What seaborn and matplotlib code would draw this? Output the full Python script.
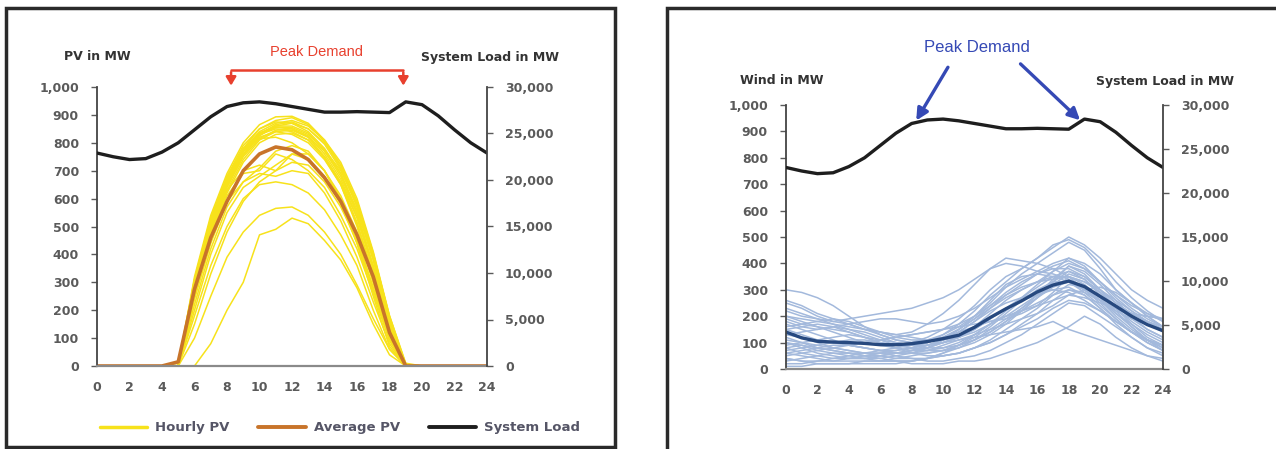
import numpy as np
import pandas as pd
import matplotlib.pyplot as plt
import seaborn as sns
from matplotlib.patches import Rectangle
from matplotlib.lines import Line2D
from matplotlib.ticker import FuncFormatter, MultipleLocator

# horas do dia
hours = list(range(25))

# carga do sistema (MW) - eixo secundario
system_load = [22900, 22500, 22200, 22300, 23000, 24000, 25400, 26800, 27900, 28300,
               28400, 28200, 27900, 27600, 27300, 27300, 27350, 27300, 27250, 28400,
               28100, 26900, 25400, 24000, 22900]

# media PV
pv_average = [0, 0, 0, 0, 0, 15, 275, 460, 590, 700, 760, 785, 775, 740, 675,
              590, 470, 320, 120, 0, 0, 0, 0, 0, 0]

# PV horario, um dia por linha (h0..h24)
Z5 = [0, 0, 0, 0, 0]
pv_days = [
    Z5 + [0, 320, 540, 690, 800, 865, 893, 895, 870, 810, 720, 580, 390, 160, 0] + Z5,
    Z5 + [0, 300, 520, 670, 780, 850, 880, 890, 865, 805, 710, 570, 380, 150, 0] + Z5,
    Z5 + [10, 310, 530, 680, 790, 850, 875, 870, 840, 780, 690, 550, 360, 140, 0] + Z5,
    Z5 + [0, 290, 510, 660, 770, 835, 860, 860, 835, 770, 680, 545, 355, 130, 0] + Z5,
    Z5 + [0, 280, 500, 650, 760, 830, 865, 875, 850, 795, 705, 575, 390, 170, 5] + Z5,
    Z5 + [0, 300, 520, 670, 775, 840, 870, 880, 860, 810, 730, 600, 410, 180, 5] + Z5,
    Z5 + [0, 270, 490, 640, 750, 815, 845, 850, 825, 760, 670, 535, 345, 130, 0] + Z5,
    Z5 + [0, 310, 525, 675, 780, 835, 855, 850, 820, 750, 655, 515, 330, 120, 0] + Z5,
    Z5 + [0, 260, 480, 630, 740, 810, 840, 845, 820, 770, 690, 560, 380, 150, 0] + Z5,
    Z5 + [0, 290, 505, 655, 760, 820, 840, 830, 800, 740, 650, 510, 320, 110, 0] + Z5,
    Z5 + [0, 300, 515, 665, 770, 830, 855, 855, 830, 775, 700, 580, 400, 180, 10] + Z5,
    Z5 + [0, 280, 495, 645, 755, 825, 860, 870, 850, 800, 720, 590, 405, 175, 5] + Z5,
    Z5 + [0, 250, 470, 620, 730, 800, 830, 835, 810, 750, 660, 530, 350, 140, 0] + Z5,
    Z5 + [0, 270, 500, 660, 770, 830, 850, 840, 810, 745, 650, 500, 300, 100, 0] + Z5,
    Z5 + [0, 300, 520, 670, 770, 815, 820, 800, 760, 700, 610, 480, 300, 110, 0] + Z5,
    Z5 + [0, 280, 490, 630, 700, 720, 700, 730, 720, 660, 570, 450, 280, 100, 0] + Z5,
    Z5 + [0, 260, 470, 610, 690, 700, 760, 740, 700, 640, 540, 420, 260, 90, 0] + Z5,
    Z5 + [0, 240, 440, 590, 660, 690, 680, 700, 690, 620, 520, 390, 230, 80, 0] + Z5,
    Z5 + [0, 200, 400, 550, 640, 680, 720, 760, 740, 680, 580, 440, 270, 100, 0] + Z5,
    Z5 + [0, 150, 330, 480, 590, 660, 700, 760, 760, 700, 600, 460, 280, 100, 0] + Z5,
    Z5 + [0, 100, 250, 390, 480, 540, 565, 570, 540, 480, 400, 290, 170, 60, 0] + Z5,
    Z5 + [0, 0, 80, 200, 300, 470, 490, 530, 510, 450, 380, 280, 150, 40, 0] + Z5,
    Z5 + [0, 180, 360, 500, 600, 650, 660, 650, 620, 560, 470, 360, 200, 60, 0] + Z5,
    Z5 + [0, 220, 420, 570, 660, 710, 770, 790, 770, 700, 590, 440, 250, 70, 0] + Z5,
]

# media eolica
wind_average = [140, 118, 105, 102, 100, 97, 92, 92, 96, 104, 115, 128, 158, 195,
                228, 258, 292, 318, 333, 312, 275, 238, 200, 168, 145]

# eolica horaria, um dia por linha (h0..h24)
wind_days = [
    [300, 290, 270, 240, 200, 160, 130, 110, 100, 120, 150, 190, 240, 300, 350, 380, 420, 470, 490, 460, 400, 330, 270, 220, 180],
    [250, 230, 200, 180, 170, 150, 130, 110, 100, 110, 130, 160, 200, 250, 310, 360, 400, 440, 480, 450, 380, 300, 250, 200, 160],
    [200, 190, 180, 170, 160, 150, 140, 130, 140, 170, 210, 260, 320, 380, 420, 410, 400, 380, 350, 300, 260, 220, 190, 170, 150],
    [150, 130, 110, 100, 90, 80, 70, 70, 80, 100, 130, 170, 220, 280, 330, 380, 420, 460, 500, 470, 420, 360, 300, 260, 230],
    [120, 100, 80, 70, 60, 50, 50, 60, 70, 90, 110, 140, 180, 230, 280, 320, 360, 390, 410, 380, 330, 280, 230, 190, 160],
    [100, 90, 80, 70, 60, 60, 70, 80, 90, 100, 120, 150, 190, 240, 290, 330, 360, 380, 380, 350, 300, 250, 210, 180, 150],
    [80, 60, 50, 40, 40, 40, 50, 60, 70, 80, 100, 120, 150, 190, 230, 270, 310, 350, 370, 340, 290, 230, 180, 140, 110],
    [60, 50, 40, 30, 30, 30, 30, 40, 50, 60, 70, 90, 110, 140, 180, 220, 270, 320, 360, 340, 280, 220, 160, 110, 80],
    [40, 30, 20, 20, 20, 20, 20, 20, 30, 40, 50, 60, 80, 100, 130, 170, 210, 260, 300, 280, 230, 170, 120, 80, 60],
    [220, 200, 190, 180, 190, 200, 210, 220, 230, 250, 270, 300, 340, 380, 400, 390, 370, 360, 340, 310, 270, 240, 210, 200, 190],
    [180, 160, 150, 160, 170, 180, 190, 190, 180, 170, 180, 200, 230, 270, 310, 340, 370, 400, 420, 400, 360, 300, 250, 210, 180],
    [130, 140, 150, 160, 150, 140, 120, 100, 90, 90, 100, 120, 160, 210, 260, 300, 330, 340, 350, 330, 300, 260, 220, 180, 150],
    [90, 100, 110, 120, 130, 120, 110, 100, 90, 80, 80, 90, 110, 140, 180, 230, 280, 340, 390, 360, 300, 230, 170, 120, 90],
    [50, 60, 70, 80, 90, 100, 110, 120, 130, 140, 150, 170, 200, 240, 280, 310, 330, 350, 350, 320, 270, 210, 160, 110, 70],
    [30, 40, 50, 60, 60, 50, 40, 30, 30, 40, 60, 80, 110, 150, 190, 230, 270, 310, 330, 300, 250, 190, 140, 100, 70],
    [20, 20, 30, 40, 50, 60, 60, 50, 40, 30, 30, 40, 50, 70, 100, 130, 170, 210, 250, 240, 200, 160, 120, 80, 50],
    [10, 10, 20, 20, 20, 30, 30, 30, 20, 20, 20, 30, 30, 40, 60, 80, 100, 130, 160, 200, 170, 120, 80, 50, 30],
    [200, 180, 160, 140, 120, 100, 90, 80, 70, 70, 80, 100, 130, 170, 220, 270, 320, 370, 420, 390, 330, 270, 220, 180, 150],
    [170, 150, 130, 110, 90, 80, 70, 60, 60, 60, 70, 90, 120, 160, 210, 260, 300, 330, 330, 300, 260, 210, 170, 130, 100],
    [140, 120, 100, 80, 70, 60, 60, 60, 70, 80, 100, 120, 150, 190, 230, 260, 280, 300, 310, 280, 230, 180, 140, 110, 90],
    [110, 100, 90, 80, 70, 60, 50, 40, 40, 40, 50, 60, 80, 110, 150, 190, 230, 280, 320, 310, 260, 200, 150, 110, 80],
    [70, 80, 90, 100, 110, 110, 100, 90, 80, 90, 110, 140, 180, 220, 250, 270, 290, 300, 290, 260, 220, 180, 140, 110, 90],
    [160, 170, 180, 190, 180, 160, 140, 120, 110, 110, 120, 150, 190, 230, 270, 300, 330, 370, 400, 380, 330, 280, 240, 210, 190],
    [260, 240, 210, 190, 170, 150, 140, 130, 120, 110, 110, 120, 140, 170, 200, 240, 280, 330, 370, 350, 300, 250, 210, 180, 160],
    [100, 80, 60, 50, 40, 40, 40, 50, 60, 80, 110, 150, 200, 260, 320, 350, 360, 350, 330, 290, 240, 190, 140, 100, 70],
    [190, 170, 160, 150, 140, 120, 100, 80, 60, 50, 50, 60, 80, 100, 130, 160, 190, 230, 260, 250, 220, 180, 140, 110, 90],
    [60, 70, 80, 90, 90, 80, 70, 60, 60, 70, 90, 110, 130, 150, 170, 190, 210, 240, 280, 300, 310, 290, 250, 200, 160],
    [130, 120, 110, 100, 100, 100, 110, 120, 130, 140, 150, 160, 170, 180, 190, 210, 240, 290, 350, 330, 290, 240, 190, 150, 120],
    [230, 210, 190, 170, 150, 130, 110, 90, 80, 70, 70, 80, 100, 130, 170, 220, 270, 330, 390, 370, 320, 260, 200, 150, 120],
    [40, 30, 30, 30, 40, 50, 60, 70, 80, 90, 100, 110, 120, 130, 140, 150, 160, 180, 150, 130, 110, 90, 70, 50, 40],
    [80, 90, 70, 60, 50, 40, 30, 30, 30, 40, 60, 90, 130, 170, 200, 220, 250, 280, 300, 290, 260, 230, 200, 170, 140],
    [150, 160, 170, 160, 140, 120, 100, 90, 90, 100, 120, 140, 160, 180, 200, 220, 240, 260, 280, 270, 250, 230, 210, 200, 190],
]

YELLOW = "#F7E21B"
AVG_PV = "#C8742A"
LIGHT_BLUE = "#A3B9DC"
DARK_BLUE = "#27497F"
LOAD = "#1E1E1E"
TICK_GRAY = "#5A5A5A"


def long_frame(days):
    rows = []
    for d, vals in enumerate(days):
        for h, v in zip(hours, vals):
            rows.append((d, h, v))
    return pd.DataFrame(rows, columns=["day", "hour", "mw"])


pv_df = long_frame(pv_days)
wind_df = long_frame(wind_days)
load_df = pd.DataFrame({"hour": hours, "mw": system_load})
pv_avg_df = pd.DataFrame({"hour": hours, "mw": pv_average})
wind_avg_df = pd.DataFrame({"hour": hours, "mw": wind_average})

sns.set_style("white")
plt.rcParams["font.family"] = ["DejaVu Sans"]

W, H = 1276, 449
fig = plt.figure(figsize=(W / 100, H / 100), dpi=100)

comma = FuncFormatter(lambda v, p: f"{int(v):,}")


def style_axes(ax, ax2):
    ax.set_xlim(0, 24)
    ax.set_ylim(0, 1000)
    ax2.set_ylim(0, 30000)
    ax.xaxis.set_major_locator(MultipleLocator(2))
    ax.yaxis.set_major_locator(MultipleLocator(100))
    ax2.yaxis.set_major_locator(MultipleLocator(5000))
    ax.yaxis.set_major_formatter(comma)
    ax2.yaxis.set_major_formatter(comma)
    for a in (ax, ax2):
        a.set_xlabel("")
        a.set_ylabel("")
        a.spines["top"].set_visible(False)
        a.grid(False)
        a.tick_params(direction="out", length=4, width=1, colors=TICK_GRAY,
                      labelsize=9, pad=9)
    ax.spines["right"].set_visible(False)
    ax2.spines["left"].set_visible(False)
    ax2.spines["bottom"].set_visible(False)
    ax.spines["left"].set_color("#444444")
    ax.spines["left"].set_linewidth(1.3)
    ax.spines["bottom"].set_color("#8A8A8A")
    ax.spines["bottom"].set_linewidth(1.6)
    ax2.spines["right"].set_color("#444444")
    ax2.spines["right"].set_linewidth(1.3)
    ax.tick_params(axis="x", pad=7)
    for lab in ax.get_yticklabels() + ax.get_xticklabels() + ax2.get_yticklabels():
        lab.set_fontweight("bold")


# ---- painel PV ----
ax1 = fig.add_axes([97 / W, 1 - 366 / H, 390 / W, 279 / H])
sns.lineplot(data=pv_df, x="hour", y="mw", units="day", estimator=None,
             color=YELLOW, lw=1.1, ax=ax1, legend=False)
sns.lineplot(data=pv_avg_df, x="hour", y="mw", color=AVG_PV, lw=2.6, ax=ax1)
ax1b = ax1.twinx()
sns.lineplot(data=load_df, x="hour", y="mw", color=LOAD, lw=2.4, ax=ax1b)
style_axes(ax1, ax1b)

# chave vermelha "Peak Demand"
red = "#E8402E"
ax1.plot([8.25, 18.85], [1062, 1062], color=red, lw=1.8, clip_on=False)
for xa in (8.25, 18.85):
    ax1.annotate("", xy=(xa, 995), xytext=(xa, 1063), xycoords="data",
                 annotation_clip=False,
                 arrowprops=dict(arrowstyle="-|>,head_width=0.3,head_length=0.5",
                                 color=red, lw=1.8))
fig.text(316 / W, 1 - 52 / H, "Peak Demand", color=red, fontsize=10.5,
         ha="center", va="center", family="Liberation Sans")
fig.text(97 / W, 1 - 57 / H, "PV in MW", color="#333333", fontsize=9,
         fontweight="bold", ha="center", va="center")
fig.text(490 / W, 1 - 57 / H, "System Load in MW", color="#333333", fontsize=9,
         fontweight="bold", ha="center", va="center")

handles = [Line2D([], [], color=YELLOW, lw=2.5),
           Line2D([], [], color=AVG_PV, lw=2.8),
           Line2D([], [], color=LOAD, lw=2.8)]
leg = fig.legend(handles, ["Hourly PV", "Average PV", "System Load"], ncol=3,
                 loc="center", bbox_to_anchor=(340 / W, 1 - 428 / H),
                 frameon=False, handlelength=3.6, columnspacing=2.2,
                 handletextpad=0.6, prop={"size": 9.5, "weight": "bold"})
for t in leg.get_texts():
    t.set_color("#555566")

# ---- painel eolico ----
ax3 = fig.add_axes([786 / W, 1 - 369 / H, 377 / W, 264 / H])
sns.lineplot(data=wind_df, x="hour", y="mw", units="day", estimator=None,
             color=LIGHT_BLUE, lw=1.1, ax=ax3, legend=False)
sns.lineplot(data=wind_avg_df, x="hour", y="mw", color=DARK_BLUE, lw=2.4, ax=ax3)
ax3b = ax3.twinx()
sns.lineplot(data=load_df, x="hour", y="mw", color=LOAD, lw=2.4, ax=ax3b)
style_axes(ax3, ax3b)

blue = "#3549B5"
for start, tip in (((10.4, 1152), (8.2, 932)), ((14.8, 1163), (18.85, 935))):
    ax3.annotate("", xy=tip, xytext=start, annotation_clip=False,
                 arrowprops=dict(arrowstyle="-|>,head_width=0.35,head_length=0.7",
                                 color=blue, lw=2.4))
fig.text(977 / W, 1 - 47 / H, "Peak Demand", color=blue, fontsize=12,
         ha="center", va="center", family="Liberation Sans")
fig.text(782 / W, 1 - 81 / H, "Wind in MW", color="#333333", fontsize=9,
         fontweight="bold", ha="center", va="center")
fig.text(1165 / W, 1 - 81 / H, "System Load in MW", color="#333333", fontsize=9,
         fontweight="bold", ha="center", va="center")

# molduras
fig.patches.append(Rectangle((6 / W, 1 - 447 / H), 609 / W, 439 / H,
                             transform=fig.transFigure, fill=False,
                             lw=2.5, ec="#2A2A2A"))
fig.patches.append(Rectangle((667 / W, -0.1), 0.5, 1.1 - 8 / H,
                             transform=fig.transFigure, fill=False,
                             lw=2.5, ec="#2A2A2A"))

fig.savefig("out.png", dpi=100)
